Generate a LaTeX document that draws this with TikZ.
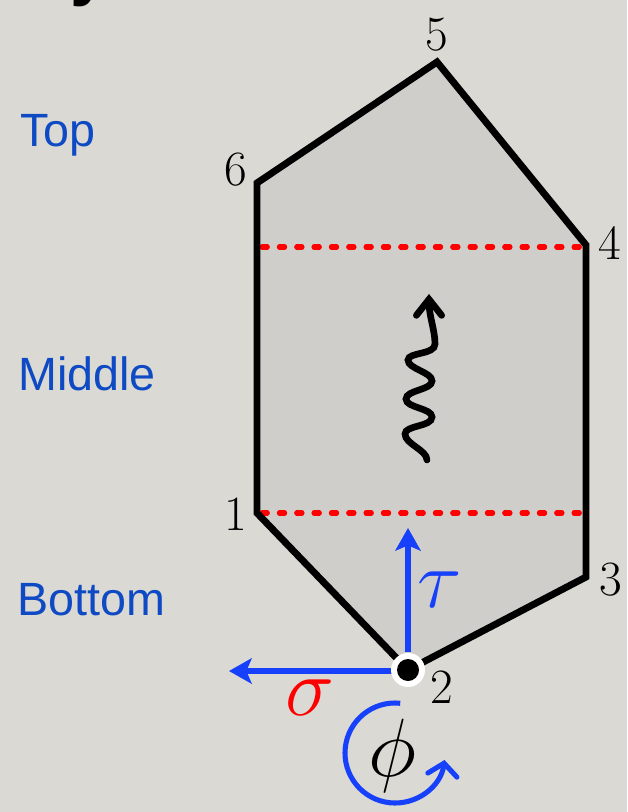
\RequirePackage{fix-cm}
\documentclass[tikz,border=0pt]{standalone}
\usepackage{fontspec}
\newfontfamily\labelsans{Liberation Sans}
\usetikzlibrary{arrows.meta}
\definecolor{bgcol}{RGB}{219,217,211}
\definecolor{fillcol}{RGB}{207,206,202}
\definecolor{txtblue}{RGB}{14,74,196}
\definecolor{arrblue}{RGB}{22,64,250}
\tikzset{
  edge/.style={line width=5.2pt, black},
  cut/.style={line width=3.8pt, red, line cap=round, dash pattern=on 4pt off 9pt},
  vlabel/.style={inner sep=0pt, font=\fontsize{37}{40}\selectfont},
  greek/.style={inner sep=0pt, font=\fontsize{62}{64}\selectfont},
  region/.style={inner sep=0pt, anchor=base west, text=txtblue, font=\fontsize{35}{40}\labelsans},
  bluearrow/.style={line width=3.8pt, arrblue, -{Stealth[length=17pt,width=19pt,inset=4pt]}},
}
\begin{document}
\begin{tikzpicture}[x=0.75pt,y=-0.75pt]
\useasboundingbox (0,0) rectangle (627,812);
\fill[bgcol] (0,0) rectangle (627,812);
% title fragment
\node[inner sep=0pt, anchor=south west, font=\fontsize{52}{56}\labelsans\bfseries] (title) at (70,7) {y};
% vertices
\coordinate (v5) at (437,62);
\coordinate (v6) at (257,183);
\coordinate (v4) at (586,245);
\coordinate (v1) at (257,513);
\coordinate (v3) at (586,577);
\coordinate (v2) at (408,670);
\coordinate (d1a) at (262,247);
\coordinate (d1b) at (582,247);
\coordinate (d2a) at (262,513);
\coordinate (d2b) at (582,513);
% shape
\fill[fillcol] (v6) -- (v5) -- (v4) -- (v3) -- (v2) -- (v1) -- cycle;
\draw[cut] (d1a) -- (d1b);
\draw[cut] (d2a) -- (d2b);
\draw[edge] (v1) -- (v6) -- (v5) -- (v4) -- (v3) -- (v2) -- cycle;
% wavy arrow
\coordinate (w0) at (427,460);
\coordinate (w1) at (429,294);
\draw[line width=5pt, line cap=round, -{Straight Barb[length=12pt,width=19pt,line cap=round]}]
  (w0) .. controls (427,450) and (405,444) .. (405,434)
  .. controls (405,425) and (432,427) .. (432,417)
  .. controls (432,408) and (406,408) .. (406,399)
  .. controls (406,390) and (432,390) .. (432,381)
  .. controls (432,372) and (408,369) .. (408,360)
  .. controls (408,352) and (435,355) .. (435,344)
  .. controls (435,330) and (429,316) .. (w1);
% blue arrows
\coordinate (tauend) at (408,528);
\coordinate (sigend) at (229,671);
\draw[bluearrow] (408,652) -- (tauend);
\draw[bluearrow] (392,671) -- (sigend);
% point 2
\fill[white] (v2) circle[radius=17];
\fill[black] (v2) circle[radius=11];
% phi arrow
\coordinate (phic) at (395,753);
\draw[line width=3.8pt, arrblue, -{Straight Barb[length=9pt,width=22pt,line cap=round]}]
  (phic) ++(276:50) arc[start angle=276, end angle=8, radius=50];
% labels
\node[vlabel] (l5) at (437,35) {$5$};
\node[vlabel] (l6) at (236,170) {$6$};
\node[vlabel] (l4) at (610,244) {$4$};
\node[vlabel] (l1) at (236,515) {$1$};
\node[vlabel] (l3) at (611,580) {$3$};
\node[vlabel] (l2) at (442,688) {$2$};
\node[greek, text=arrblue] (tau) at (440,590) {$\tau$};
\node[greek, text=red] (sig) at (310,698) {$\sigma$};
\node[greek] (phi) at (392,756) {$\phi$};
\node[region] (top) at (20,147) {Top};
\node[region] (mid) at (18,390) {Middle};
\node[region] (bot) at (17,615) {Bottom};
\end{tikzpicture}
\end{document}
